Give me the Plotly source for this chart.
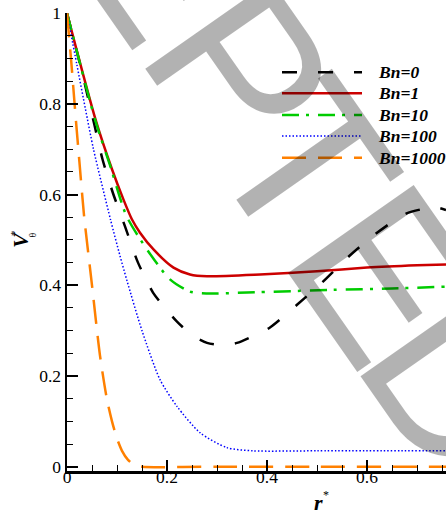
import plotly.graph_objects as go
import math

# ---------------- data ----------------
r_bn0 = [0, 0.03, 0.055, 0.071, 0.092, 0.116, 0.142, 0.172, 0.2, 0.22, 0.25, 0.28, 0.31, 0.34, 0.37,
         0.406, 0.46, 0.512, 0.564, 0.618, 0.678, 0.735, 0.758]
v_bn0 = [1, 0.87, 0.753, 0.678, 0.603, 0.53, 0.45, 0.384, 0.345, 0.32, 0.29, 0.273, 0.268, 0.273, 0.287,
         0.307, 0.357, 0.408, 0.464, 0.514, 0.558, 0.572, 0.566]

r_bn1 = [0, 0.057, 0.09, 0.113, 0.13, 0.146, 0.173, 0.213, 0.246, 0.28, 0.386, 0.5, 0.6, 0.7, 0.758]
v_bn1 = [1, 0.766, 0.656, 0.589, 0.545, 0.516, 0.479, 0.439, 0.424, 0.42, 0.424, 0.431, 0.439, 0.444, 0.446]

r_bn10 = [0, 0.057, 0.086, 0.119, 0.16, 0.206, 0.246, 0.28, 0.36, 0.532, 0.65, 0.758]
v_bn10 = [1, 0.762, 0.665, 0.553, 0.479, 0.413, 0.386, 0.382, 0.384, 0.39, 0.393, 0.397]

r_bn100 = [0, 0.02, 0.037, 0.053, 0.087, 0.106, 0.12, 0.15, 0.186, 0.22, 0.266, 0.32, 0.372, 0.5, 0.758]
v_bn100 = [1, 0.885, 0.788, 0.70, 0.545, 0.465, 0.41, 0.30, 0.192, 0.133, 0.075, 0.042, 0.035, 0.035, 0.035]

r_bn1000 = [0, 0.008, 0.017, 0.025, 0.034, 0.05, 0.066, 0.08, 0.09, 0.1, 0.11, 0.122, 0.135, 0.15, 0.3, 0.5, 0.758]
v_bn1000 = [1, 0.9, 0.775, 0.67, 0.555, 0.40, 0.245, 0.148, 0.10, 0.062, 0.035, 0.015, 0.004, 0.0, 0.0, 0.0, 0.0]

series_names = ["Bn=0", "Bn=1", "Bn=10", "Bn=100", "Bn=1000"]

x_ticks = [0, 0.2, 0.4, 0.6]
x_ticktext = ["0", "0.2", "0.4", "0.6"]
y_ticks = [0, 0.2, 0.4, 0.6, 0.8, 1.0]
y_ticktext = ["0", "0.2", "0.4", "0.6", "0.8", "1"]

# visible part of the "ACCEPTED" watermark
watermark_letters = ["E", "P", "T", "E", "D"]

# ---------------- styles ----------------
styles = [
    dict(color="#000000", width=2.5, dash="15px,21px"),
    dict(color="#cc0000", width=2.5, dash="solid"),
    dict(color="#00cc00", width=2.5, dash="17px,7px,3px,9px"),
    dict(color="#0000ff", width=1.5, dash="1.5px,2px"),
    dict(color="#ff8000", width=2.5, dash="24px,12px"),
]
xs = [r_bn0, r_bn1, r_bn10, r_bn100, r_bn1000]
ys = [v_bn0, v_bn1, v_bn10, v_bn100, v_bn1000]

W, H = 446, 513
ML, MR, MT, MB = 67, 0, 13, 42
PW, PH = W - ML - MR, H - MT - MB


def px2paper(px, py):
    return (px - ML) / PW, (H - MB - py) / PH


fig = go.Figure()
for x, y, s, n in zip(xs, ys, styles, series_names):
    fig.add_trace(go.Scatter(x=x, y=y, mode="lines", name=n,
                             line=dict(color=s["color"], width=s["width"], dash=s["dash"],
                                       shape="spline", smoothing=0.7),
                             showlegend=False, hoverinfo="skip"))

serif = "Liberation Serif, Times New Roman, serif"

axis_common = dict(
    showline=True, linecolor="black", linewidth=2.5,
    ticks="inside", ticklen=11, tickwidth=2, tickcolor="black",
    showgrid=False, zeroline=False, mirror=False,
    tickfont=dict(family=serif, size=17.5, color="black"),
    minor=dict(dtick=0.05, ticks="inside", ticklen=6, tickwidth=1, tickcolor="black", showgrid=False),
)

fig.update_layout(
    width=W, height=H, autosize=False,
    margin=dict(l=ML, r=MR, t=MT, b=MB, pad=0),
    paper_bgcolor="white", plot_bgcolor="white",
    xaxis=dict(range=[0, PW / 500.0], tickvals=x_ticks, ticktext=x_ticktext, tick0=0,
               ticklabelstandoff=-12, **axis_common),
    yaxis=dict(range=[-0.0095, 1.0005], tickvals=y_ticks, ticktext=y_ticktext, tick0=0, **axis_common),
    showlegend=False,
)

# ---------------- manual legend ----------------
leg_y = [72.3, 93.3, 115, 136, 157.7]
for py, s, n in zip(leg_y, styles, series_names):
    x0, yy = px2paper(282, py)
    x1, _ = px2paper(362, py)
    fig.add_shape(type="line", xref="paper", yref="paper", x0=x0, x1=x1, y0=yy, y1=yy,
                  line=dict(color=s["color"], width=s["width"], dash=s["dash"]))
    tx, ty = px2paper(376, py)
    fig.add_annotation(xref="paper", yref="paper", x=tx, y=ty, xanchor="left", yanchor="middle",
                       text="<b><i>%s</i></b>" % n, showarrow=False,
                       font=dict(family=serif, size=17.5, color="black"))

# ---------------- axis titles ----------------
ax, ay = px2paper(20.5, 239.5)
fig.add_annotation(xref="paper", yref="paper", x=ax, y=ay, text="<b><i>V</i></b>", textangle=-90,
                   showarrow=False, xanchor="center", yanchor="middle",
                   font=dict(family=serif, size=22, color="black"))
ax, ay = px2paper(13.5, 233.5)
fig.add_annotation(xref="paper", yref="paper", x=ax, y=ay, text="*", textangle=-90,
                   showarrow=False, xanchor="center", yanchor="middle",
                   font=dict(family=serif, size=11, color="black"))
ax, ay = px2paper(31.5, 235)
fig.add_annotation(xref="paper", yref="paper", x=ax, y=ay, text="θ", textangle=-90,
                   showarrow=False, xanchor="center", yanchor="middle",
                   font=dict(family=serif, size=10, color="black"))

ax, ay = px2paper(318, 502.5)
fig.add_annotation(xref="paper", yref="paper", x=ax, y=ay, text="<b><i>r</i></b>",
                   showarrow=False, xanchor="center", yanchor="middle",
                   font=dict(family=serif, size=22, color="black"))
ax, ay = px2paper(326, 495)
fig.add_annotation(xref="paper", yref="paper", x=ax, y=ay, text="*",
                   showarrow=False, xanchor="center", yanchor="middle",
                   font=dict(family=serif, size=12, color="black"))

# ---------------- watermark ----------------
th = math.radians(55)
ux, uy = math.cos(th), math.sin(th)
vx, vy = math.sin(th), -math.cos(th)
letter_u = [-97, 47, 160, 296, 428]
for ch, u in zip(watermark_letters, letter_u):
    sx = 150 + u * ux + 78 * vx
    sy = 77 + u * uy + 78 * vy
    px_, py_ = px2paper(sx, sy)
    fig.add_annotation(xref="paper", yref="paper", x=px_, y=py_, text=ch, textangle=55,
                       showarrow=False, xanchor="center", yanchor="middle",
                       font=dict(family="Liberation Sans, Arial, sans-serif", size=223,
                                 color="rgba(0,0,0,0.3)"))

fig.write_html("out.html", config={"displayModeBar": False, "staticPlot": True},
               post_script="document.body.style.margin='0px';document.body.style.overflow='hidden';")
